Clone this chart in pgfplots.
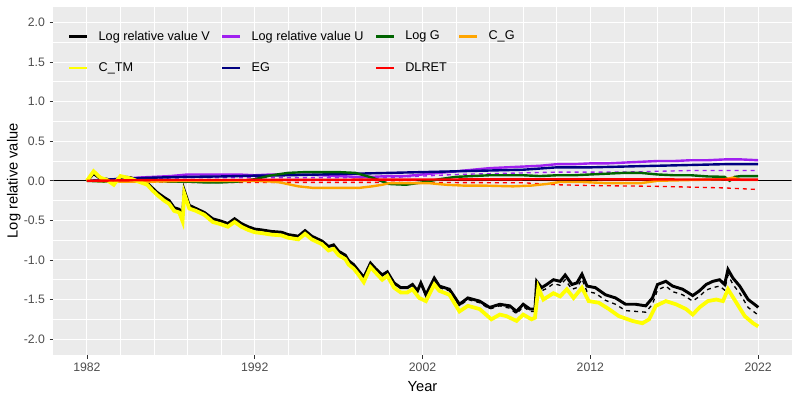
\documentclass[border=0pt]{standalone}
\usepackage{fontspec}
\setmainfont{Liberation Sans}
\usepackage{pgfplots}
\pgfplotsset{compat=1.18}
\definecolor{panelbg}{HTML}{EBEBEB}
\definecolor{rpurple}{HTML}{A020F0}
\definecolor{rnavy}{HTML}{000080}
\definecolor{rdarkgreen}{HTML}{006400}
\definecolor{rorange}{HTML}{FFA500}
\definecolor{ryellow}{HTML}{FFFF00}
\definecolor{rred}{HTML}{FF0000}
\definecolor{ticklab}{HTML}{4D4D4D}
\definecolor{tickcol}{HTML}{333333}
\begin{document}
\begin{tikzpicture}
\begin{axis}[
  at={(0,0)}, anchor=south west,
  scale only axis, width=553.8pt, height=261.2pt,
  xmin=1980, xmax=2024, ymin=-2.2, ymax=2.2,
  axis background/.style={fill=panelbg},
  axis line style={draw=none},
  xtick={1982,1992,2002,2012,2022},
  xticklabels={1982,1992,2002,2012,2022},
  minor xtick={1984,1986,1988,1990,1994,1996,1998,2000,2004,2006,2008,2010,2014,2016,2018,2020},
  ytick={-2,-1.5,-1,-0.5,0,0.5,1,1.5,2},
  yticklabels={-2.0,-1.5,-1.0,-0.5,0.0,0.5,1.0,1.5,2.0},
  minor ytick={-1.75,-1.25,-0.75,-0.25,0.25,0.75,1.25,1.75},
  grid=both,
  major grid style={white, line width=0.8pt},
  minor grid style={white, line width=0.6pt},
  tick align=outside,
  xtick pos=bottom, ytick pos=left,
  major tick length=2.75pt, minor tick length=0pt,
  tick style={color=tickcol, line width=0.5pt},
  ticklabel style={font=\fontsize{9.2}{10}\selectfont, color=ticklab},
  xlabel={Year}, ylabel={Log relative value},
  ylabel shift=-4.5pt,
  label style={font=\fontsize{11}{13}\selectfont, color=black},
  legend columns=4,
  legend cell align=left,
  legend image code/.code={\draw[#1] (0pt,0pt) -- (13.5pt,0pt);},
  legend style={at={(axis description cs:0,1)}, anchor=north west,
    xshift=11pt, yshift=-18pt, draw=none, fill=none, inner sep=0pt,
    font=\fontsize{9.5}{10.5}\selectfont,
    nodes={inner sep=0pt},
    row sep=15.5pt,
    /tikz/every odd column/.append style={column sep=7.5pt},
    /tikz/every even column/.append style={column sep=8.5pt}},
]
\addlegendimage{black, line width=1.8pt}
\addlegendentry{Log relative value V}
\addlegendimage{rpurple, line width=1.8pt}
\addlegendentry{Log relative value U}
\addlegendimage{rdarkgreen, line width=1.8pt}
\addlegendentry{Log G}
\addlegendimage{rorange, line width=1.8pt}
\addlegendentry{C\_G}
\addlegendimage{ryellow, line width=1.8pt}
\addlegendentry{C\_TM}
\addlegendimage{rnavy, line width=1.8pt}
\addlegendentry{EG}
\addlegendimage{rred, line width=1.8pt}
\addlegendentry{DLRET}

% horizontal reference line
\addplot[black, line width=0.6pt, forget plot] coordinates {(1980,0) (2024,0)};

% red dashed
\addplot[rred, line width=1pt, dashed, forget plot] coordinates {
(1982,0.0) (1984,-0.01) (1988,-0.02) (2000,-0.02) (2008,-0.025) (2010,-0.05)
(2012,-0.06) (2014,-0.065) (2016,-0.07) (2018,-0.08) (2020,-0.09) (2022,-0.11)};

% purple dashed
\addplot[rpurple, line width=1pt, dashed, forget plot] coordinates {
(1982,0.0) (1984,0.02) (1986,0.03) (1988,0.04) (1990,0.04) (1992,0.04) (1994,0.04)
(1996,0.04) (1998,0.04) (2000,0.04) (2002,0.06) (2004,0.08) (2006,0.09) (2008,0.10)
(2010,0.11) (2012,0.11) (2014,0.11) (2016,0.12) (2018,0.13) (2020,0.13) (2022,0.13)};

% black dashed (V variant)
\addplot[black, line width=1pt, dashed, forget plot] coordinates {
(2001.9,-1.30) (2002.2,-1.45) (2002.7,-1.25) (2003.0,-1.35) (2003.6,-1.39) (2004.2,-1.58)
(2004.7,-1.50) (2005.4,-1.54) (2006.0,-1.62) (2006.6,-1.58) (2007.2,-1.61) (2007.6,-1.68)
(2008.0,-1.59) (2008.4,-1.65) (2008.7,-1.65) (2008.8,-1.31) (2009.1,-1.39) (2009.4,-1.36)
(2009.8,-1.30) (2010.2,-1.32) (2010.5,-1.25) (2010.9,-1.37) (2011.2,-1.35) (2011.5,-1.24)
(2011.8,-1.40) (2012.3,-1.42) (2012.9,-1.51) (2013.5,-1.56) (2014.1,-1.64) (2014.7,-1.65)
(2015.3,-1.66) (2015.7,-1.56) (2016.0,-1.38) (2016.5,-1.33) (2016.9,-1.40) (2017.5,-1.44)
(2018.1,-1.52) (2018.5,-1.46) (2018.9,-1.38) (2019.3,-1.35) (2019.7,-1.33) (2020.0,-1.38)
(2020.2,-1.19) (2020.5,-1.31) (2020.9,-1.42) (2021.4,-1.60) (2021.9,-1.68) (2022.0,-1.71)};

% Log relative value V
\addplot[black, line width=2.2pt, forget plot] coordinates {
(1982.0,0.00) (1982.4,0.09) (1982.8,0.03) (1983.2,0.02) (1983.6,-0.01) (1984.0,0.05)
(1984.6,0.04) (1985.2,-0.01) (1985.6,-0.03) (1985.9,-0.09) (1986.2,-0.15) (1986.6,-0.21)
(1986.9,-0.25) (1987.2,-0.34) (1987.5,-0.36) (1987.7,-0.44) (1987.8,-0.12) (1988.1,-0.31)
(1988.5,-0.35) (1989.0,-0.40) (1989.5,-0.48) (1990.0,-0.51) (1990.4,-0.54) (1990.8,-0.48)
(1991.2,-0.54) (1991.6,-0.58) (1992.0,-0.61) (1992.4,-0.62) (1993.0,-0.64) (1993.6,-0.65)
(1994.0,-0.68) (1994.6,-0.70) (1995.0,-0.63) (1995.4,-0.70) (1996.0,-0.76) (1996.4,-0.83)
(1996.7,-0.81) (1997.0,-0.89) (1997.4,-0.94) (1997.6,-1.01) (1997.9,-1.06) (1998.2,-1.14)
(1998.5,-1.22) (1998.9,-1.04) (1999.2,-1.11) (1999.6,-1.19) (1999.9,-1.15) (2000.3,-1.29)
(2000.7,-1.35) (2001.1,-1.35) (2001.4,-1.31) (2001.7,-1.39) (2001.9,-1.29) (2002.2,-1.44)
(2002.7,-1.23) (2003.0,-1.33) (2003.6,-1.37) (2004.2,-1.56) (2004.7,-1.48) (2005.4,-1.52)
(2006.0,-1.60) (2006.6,-1.56) (2007.2,-1.58) (2007.6,-1.65) (2008.0,-1.56) (2008.4,-1.62)
(2008.7,-1.62) (2008.8,-1.27) (2009.1,-1.35) (2009.4,-1.31) (2009.8,-1.25) (2010.2,-1.27)
(2010.5,-1.19) (2010.9,-1.31) (2011.2,-1.29) (2011.5,-1.18) (2011.8,-1.33) (2012.3,-1.35)
(2012.9,-1.44) (2013.5,-1.48) (2014.1,-1.56) (2014.7,-1.56) (2015.3,-1.58) (2015.7,-1.48)
(2016.0,-1.31) (2016.5,-1.27) (2016.9,-1.33) (2017.5,-1.37) (2018.1,-1.45) (2018.5,-1.39)
(2018.9,-1.31) (2019.3,-1.27) (2019.7,-1.25) (2020.0,-1.31) (2020.2,-1.12) (2020.5,-1.23)
(2020.9,-1.33) (2021.4,-1.50) (2021.9,-1.58) (2022.0,-1.60)};

% Log relative value U
\addplot[rpurple, line width=1.8pt, forget plot] coordinates {
(1982,0.00) (1983,0.01) (1984,0.02) (1985,0.04) (1986,0.05) (1987,0.06) (1988,0.08)
(1989,0.08) (1990,0.08) (1991,0.08) (1992,0.07) (1993,0.08) (1994,0.08) (1995,0.08)
(1996,0.07) (1997,0.06) (1998,0.05) (1999,0.05) (2000,0.06) (2001,0.06) (2002,0.08)
(2003,0.10) (2004,0.12) (2005,0.14) (2006,0.16) (2007,0.17) (2008,0.18) (2009,0.19)
(2010,0.21) (2011,0.21) (2012,0.22) (2013,0.22) (2014,0.23) (2015,0.24) (2016,0.25)
(2017,0.25) (2018,0.26) (2019,0.26) (2020,0.27) (2021,0.27) (2022,0.26)};

% EG
\addplot[rnavy, line width=1.8pt, forget plot] coordinates {
(1982,0.00) (1984,0.025) (1986,0.04) (1988,0.05) (1990,0.055) (1992,0.065) (1994,0.07)
(1996,0.08) (1998,0.09) (2000,0.10) (2002,0.11) (2004,0.12) (2006,0.13) (2008,0.14)
(2010,0.17) (2012,0.17) (2014,0.18) (2016,0.19) (2018,0.20) (2020,0.21) (2022,0.21)};

% Log G
\addplot[rdarkgreen, line width=1.8pt, forget plot] coordinates {
(1982,0.00) (1983,-0.01) (1984,0.00) (1985,-0.01) (1986,0.00) (1987,-0.01) (1988,-0.01)
(1989,-0.02) (1990,-0.02) (1991,-0.01) (1992,0.02) (1993,0.07) (1994,0.10) (1995,0.11)
(1996,0.11) (1997,0.11) (1998,0.10) (1999,0.04) (2000,-0.04) (2001,-0.05) (2002,-0.02)
(2003,0.02) (2004,0.05) (2005,0.06) (2006,0.07) (2007,0.07) (2008,0.07) (2009,0.06)
(2010,0.07) (2011,0.07) (2012,0.08) (2013,0.09) (2014,0.10) (2015,0.10) (2016,0.08)
(2017,0.07) (2018,0.07) (2019,0.055) (2020,0.05) (2020.3,0.00) (2020.6,0.05) (2021,0.06)
(2022,0.06)};

% C_G
\addplot[rorange, line width=1.8pt, forget plot] coordinates {
(1982,0.00) (1984,-0.01) (1986,-0.01) (1988,0.00) (1990,0.00) (1992,0.00) (1993,-0.01)
(1993.5,-0.02) (1994.6,-0.07) (1995.5,-0.09) (1997,-0.09) (1998.2,-0.09) (1999,-0.07)
(1999.6,-0.05) (2000,-0.03) (2001,-0.03) (2002.4,-0.03) (2003.4,-0.05) (2004.4,-0.06)
(2005.5,-0.06) (2007.4,-0.07) (2008.5,-0.06) (2009.4,-0.04) (2010.2,-0.015) (2011.5,-0.015)
(2013,-0.03) (2015,-0.03) (2016,0.00) (2018,0.01) (2020,0.02) (2020.5,0.04) (2021,0.01)
(2022,0.01)};

% C_TM
\addplot[ryellow, line width=2.8pt, forget plot] coordinates {
(1982.0,0.00) (1982.4,0.12) (1982.8,0.04) (1983.2,0.01) (1983.6,-0.05) (1984.0,0.06)
(1984.6,0.03) (1985.2,-0.02) (1985.6,-0.05) (1985.9,-0.12) (1986.2,-0.18) (1986.6,-0.25)
(1986.9,-0.29) (1987.2,-0.38) (1987.5,-0.40) (1987.7,-0.51) (1987.8,-0.16) (1988.1,-0.35)
(1988.5,-0.38) (1989.0,-0.43) (1989.5,-0.52) (1990.0,-0.55) (1990.4,-0.58) (1990.8,-0.52)
(1991.2,-0.58) (1991.6,-0.62) (1992.0,-0.65) (1992.4,-0.66) (1993.0,-0.68) (1993.6,-0.69)
(1994.0,-0.72) (1994.6,-0.74) (1995.0,-0.67) (1995.4,-0.74) (1996.0,-0.80) (1996.4,-0.88)
(1996.7,-0.86) (1997.0,-0.94) (1997.4,-0.99) (1997.6,-1.06) (1997.9,-1.11) (1998.2,-1.19)
(1998.5,-1.28) (1998.9,-1.09) (1999.2,-1.16) (1999.6,-1.25) (1999.9,-1.20) (2000.3,-1.35)
(2000.7,-1.41) (2001.1,-1.41) (2001.4,-1.37) (2001.8,-1.48) (2002.2,-1.52) (2002.7,-1.31)
(2003.0,-1.39) (2003.6,-1.44) (2004.2,-1.65) (2004.7,-1.58) (2005.4,-1.62) (2006.1,-1.75)
(2006.6,-1.69) (2007.0,-1.71) (2007.6,-1.77) (2008.0,-1.69) (2008.5,-1.75) (2008.7,-1.73)
(2008.9,-1.35) (2009.2,-1.50) (2009.8,-1.42) (2010.2,-1.46) (2010.6,-1.37) (2011.0,-1.48)
(2011.5,-1.35) (2011.9,-1.52) (2012.5,-1.54) (2013.1,-1.62) (2013.7,-1.71) (2014.5,-1.77)
(2015.1,-1.80) (2015.5,-1.75) (2015.9,-1.58) (2016.5,-1.52) (2017.1,-1.56) (2017.7,-1.62)
(2018.1,-1.69) (2018.5,-1.60) (2019.0,-1.52) (2019.5,-1.50) (2019.9,-1.52) (2020.2,-1.37)
(2020.7,-1.54) (2021.2,-1.71) (2021.7,-1.80) (2022.0,-1.84)};

% DLRET
\addplot[rred, line width=1.8pt, forget plot] coordinates {
(1982,0.00) (1986,0.01) (1990,0.01) (2000,0.015) (2010,0.02) (2022,0.015)};
\end{axis}
\pgfresetboundingbox
\path[use as bounding box] (-40pt,-33.75pt) rectangle (560pt,266.2pt);
\end{tikzpicture}
\end{document}
